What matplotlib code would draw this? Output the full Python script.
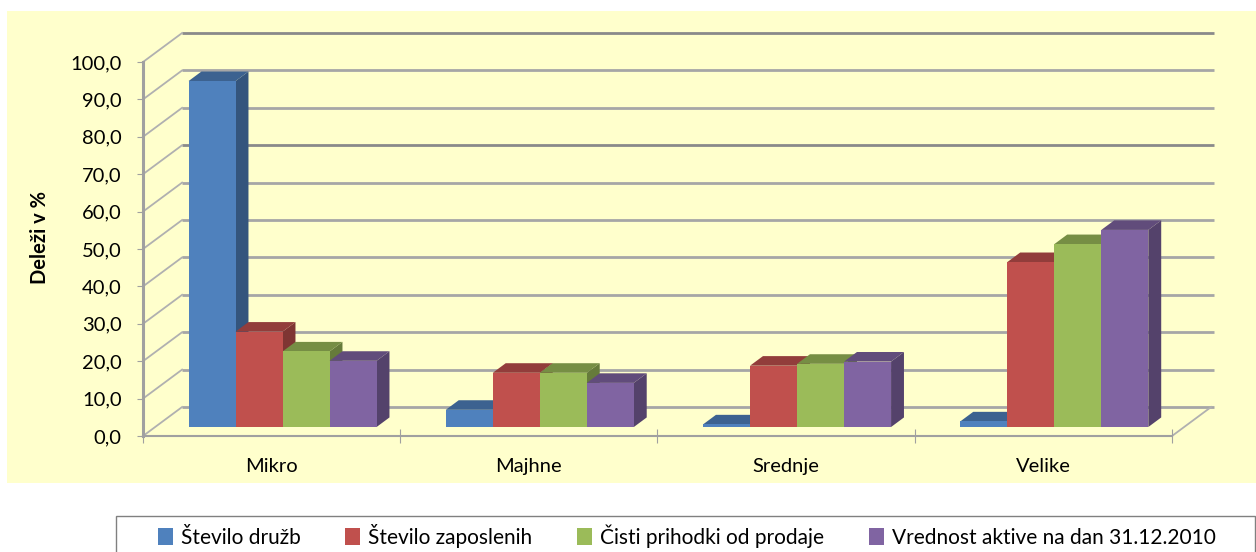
import matplotlib.pyplot as plt
from matplotlib.patches import Polygon, Rectangle, Patch
from matplotlib.colors import to_rgb

# data
categories = ['Mikro', 'Majhne', 'Srednje', 'Velike']
series = ['Število družb', 'Število zaposlenih', 'Čisti prihodki od prodaje',
          'Vrednost aktive na dan 31.12.2010']
druzbe = [92.5, 4.6, 0.7, 1.5]
zaposleni = [25.5, 14.5, 16.4, 44.1]
prihodki = [20.2, 14.5, 16.9, 48.9]
aktiva = [17.7, 11.8, 17.5, 52.7]
yticks = [0, 10, 20, 30, 40, 50, 60, 70, 80, 90, 100]
colors = ['#4F81BD', '#C0504D', '#9BBB59', '#8064A2']

values = [druzbe, zaposleni, prihodki, aktiva]

W, H = 1256, 552
plt.rcParams['font.family'] = ['Lato', 'DejaVu Sans']
fig = plt.figure(figsize=(W / 100, H / 100), dpi=100)
fig.patch.set_facecolor('white')

# yellow chart area
fig.patches.append(Rectangle((7 / W, 1 - 483 / H), (W - 7) / W, (483 - 11) / H,
                             transform=fig.transFigure, facecolor='#FFFFCC',
                             edgecolor='none', zorder=-5))

ax = fig.add_axes([143 / W, 1 - 436 / H, 1029 / W, 374 / H])
ax.set_facecolor('none')
ax.set_xlim(0, 4)
ax.set_ylim(0, 100)

DX, DY = 0.152, 7.75        # depth of the walls in data units

# back wall gridlines and left wall diagonals
for v in yticks:
    gc = '#8A8A8A' if v in (70, 100) else '#A6A6A6'
    ax.plot([DX, 4 + DX + 0.01], [v + DY, v + DY], color=gc, lw=2.0,
            clip_on=False, zorder=1, solid_capstyle='butt')
    ax.plot([0, DX], [v, v + DY], color='#B0B0B0', lw=1.3, clip_on=False, zorder=1)
ax.plot([4, 4 + DX], [0, DY], color='#B0B0B0', lw=1.3, clip_on=False, zorder=1)


def shade(c, k):
    r, g, b = to_rgb(c)
    return (r * k, g * k, b * k)


# bars
f0, fd = 0.31, 0.33
bx, by = f0 * DX, f0 * DY
ddx, ddy = fd * DX, fd * DY
w = 0.1827
start = 0.13
for j, (vals, c) in enumerate(zip(values, colors)):
    xs = [i + start + j * w + bx for i in range(len(categories))]
    z = 3 + j * 0.1
    ax.bar(xs, vals, width=w, bottom=by, align='edge', color=c,
           linewidth=0, zorder=z, clip_on=False)
    for x, v in zip(xs, vals):
        top = by + v
        side = [(x + w, by), (x + w + ddx, by + ddy), (x + w + ddx, top + ddy), (x + w, top)]
        lid = [(x, top), (x + ddx, top + ddy), (x + w + ddx, top + ddy), (x + w, top)]
        ax.add_patch(Polygon(side, closed=True, facecolor=shade(c, 0.66),
                             edgecolor='none', zorder=z - 0.05, clip_on=False))
        ax.add_patch(Polygon(lid, closed=True, facecolor=shade(c, 0.76),
                             edgecolor='none', zorder=z - 0.04, clip_on=False))

# axes styling
for s in ['top', 'right']:
    ax.spines[s].set_visible(False)
ax.spines['left'].set_color('#A0A0A0')
ax.spines['left'].set_linewidth(2.2)
ax.spines['bottom'].set_color('#A0A0A0')
ax.spines['bottom'].set_linewidth(1.5)
ax.set_yticks(yticks)
ax.set_yticklabels([('%.1f' % v).replace('.', ',') for v in yticks], fontsize=14.5)
ax.tick_params(axis='y', direction='out', length=4.3, color='#A0A0A0', pad=11)
ax.set_xticks([0, 1, 2, 3, 4])
ax.set_xticklabels([])
ax.tick_params(axis='x', which='major', direction='inout', length=10, color='#A0A0A0')
ax.set_xticks([0.5, 1.5, 2.5, 3.5], minor=True)
ax.set_xticklabels(categories, minor=True, fontsize=14.5)
ax.tick_params(axis='x', which='minor', length=0, pad=16)

fig.text(40 / W, 1 - 238 / H, 'Deleži v %', rotation=90, fontsize=14.5,
         fontweight='bold', ha='center', va='center')

# legend
fig.patches.append(Rectangle((116 / W, -0.01), (1255 - 116) / W, (552 - 516) / H + 0.01,
                             transform=fig.transFigure, facecolor='white',
                             edgecolor='#808080', lw=1, zorder=1))
handles = [Patch(facecolor=c, edgecolor='none') for c in colors]
fig.legend(handles, series, loc='center left', bbox_to_anchor=(158 / W, 1 - 536 / H),
           ncol=4, frameon=False, fontsize=15, handlelength=0.7, handleheight=0.9,
           handletextpad=0.4, columnspacing=2.15, borderaxespad=0, borderpad=0)

fig.savefig('out.png', dpi=100)
